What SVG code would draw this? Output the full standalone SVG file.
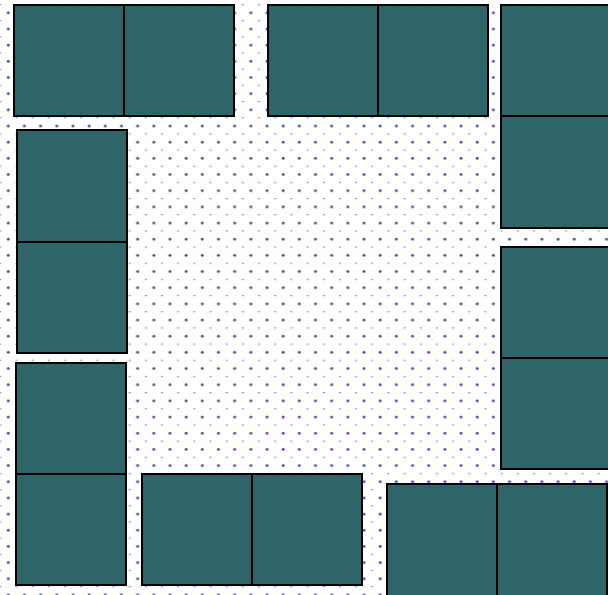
<svg xmlns="http://www.w3.org/2000/svg" width="608" height="595" viewBox="0 0 608 595">
  <style>
    .cell { fill: #2e6568; stroke: #000; stroke-width: 2; }
  </style>
  <defs>
    <pattern id="dots" patternUnits="userSpaceOnUse" x="4.3" y="8.7" width="16.17" height="16.17">
      <circle cx="4" cy="4" r="1.5" fill="#5050b0"/>
      <rect x="11.1" y="11.6" width="2.2" height="1" fill="#8080c4"/>
    </pattern>
  </defs>
  <rect x="0" y="0" width="608" height="595" fill="#fff"/>
  <rect x="0" y="0" width="608" height="595" fill="url(#dots)"/>

  <g id="pair-top-left">
    <rect class="cell" x="14" y="5" width="110" height="111"/>
    <rect class="cell" x="124" y="5" width="110" height="111"/>
  </g>
  <g id="pair-top-middle">
    <rect class="cell" x="268" y="5" width="110" height="111"/>
    <rect class="cell" x="378" y="5" width="110" height="111"/>
  </g>
  <g id="pair-top-right">
    <rect class="cell" x="501" y="5" width="111" height="111"/>
    <rect class="cell" x="501" y="116" width="111" height="112"/>
  </g>
  <g id="pair-left-upper">
    <rect class="cell" x="17" y="130" width="110" height="112"/>
    <rect class="cell" x="17" y="242" width="110" height="111"/>
  </g>
  <g id="pair-right-middle">
    <rect class="cell" x="501" y="247" width="111" height="111"/>
    <rect class="cell" x="501" y="358" width="111" height="111"/>
  </g>
  <g id="pair-left-lower">
    <rect class="cell" x="16" y="363" width="110" height="111"/>
    <rect class="cell" x="16" y="474" width="110" height="111"/>
  </g>
  <g id="pair-bottom-middle">
    <rect class="cell" x="142" y="474" width="110" height="111"/>
    <rect class="cell" x="252" y="474" width="110" height="111"/>
  </g>
  <g id="pair-bottom-right">
    <rect class="cell" x="387" y="484" width="110" height="112"/>
    <rect class="cell" x="497" y="484" width="110" height="112"/>
  </g>
  <g id="connectors"></g>
</svg>
